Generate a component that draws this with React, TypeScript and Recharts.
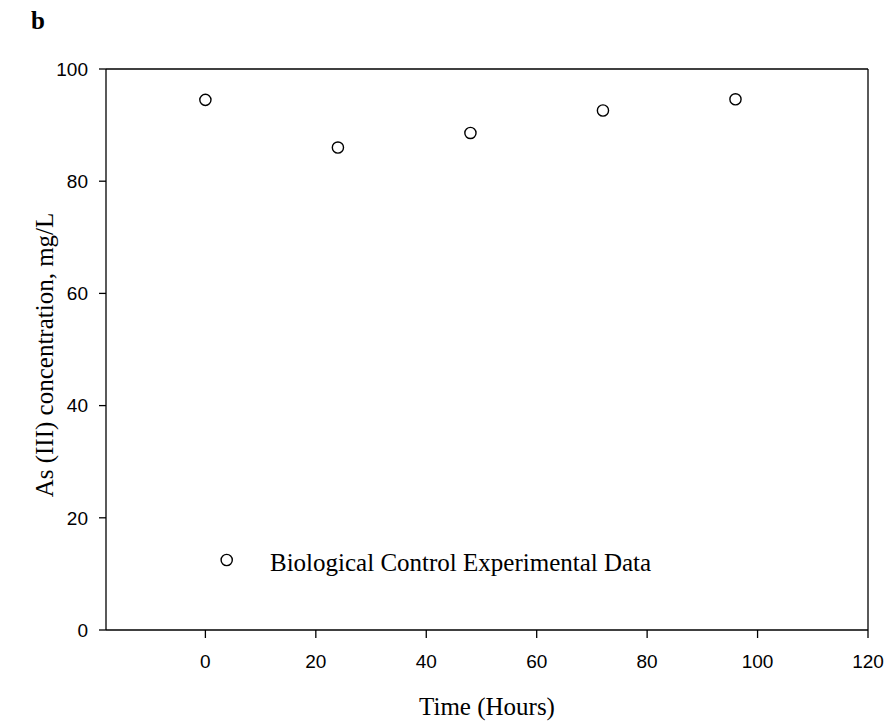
import React from 'react';
import { ScatterChart, Scatter, XAxis, YAxis, ReferenceLine, Customized } from 'recharts';

const timeHours = [0, 24, 48, 72, 96];
const asConcentration = [94.5, 86.0, 88.6, 92.6, 94.6];
const xTicks = [0, 20, 40, 60, 80, 100, 120];
const yTicks = [0, 20, 40, 60, 80, 100];
const xDomain = [-18, 120];
const yDomain = [0, 100];
const seriesName = 'Biological Control Experimental Data';
const panelLabel = 'b';
const xTitle = 'Time (Hours)';
const yTitle = 'As (III) concentration, mg/L';

const data = timeHours.map((t, i) => ({ x: t, y: asConcentration[i] }));

const SANS = '"Liberation Sans", Arial, sans-serif';
const SERIF = '"Liberation Serif", "Times New Roman", serif';

const tickStyle = { fill: '#000', fontSize: 19, fontFamily: SANS };
const lineStyle = { stroke: '#000', strokeWidth: 1.3 };

const Marker = (p: any) => (
  <circle cx={p.cx} cy={p.cy} r={5.6} fill="none" stroke="#000" strokeWidth={1.4} />
);

const Overlay = () => (
  <g>
    <text x={31} y={29} fontFamily={SERIF} fontWeight="bold" fontSize={25} fill="#000">
      {panelLabel}
    </text>
    <text x={487} y={715} textAnchor="middle" fontFamily={SERIF} fontSize={25} fill="#000">
      {xTitle}
    </text>
    <text
      x={53}
      y={355}
      textAnchor="middle"
      transform="rotate(-90 53 355)"
      fontFamily={SERIF}
      fontSize={25}
      fill="#000"
    >
      {yTitle}
    </text>
    <circle cx={226.7} cy={560} r={5.6} fill="none" stroke="#000" strokeWidth={1.4} />
    <text x={270} y={571} fontFamily={SERIF} fontSize={25} fill="#000">
      {seriesName}
    </text>
  </g>
);

export default function App() {
  return (
    <div style={{ position: 'absolute', left: 0, top: 0, background: '#fff' }}>
      <ScatterChart
        width={890}
        height={726}
        margin={{ top: 69, right: 22, bottom: 0, left: 0 }}
      >
        <XAxis
          dataKey="x"
          type="number"
          domain={xDomain}
          ticks={xTicks}
          allowDataOverflow
          height={96}
          tickSize={8}
          tickMargin={17}
          tick={tickStyle}
          axisLine={lineStyle}
          tickLine={lineStyle}
        />
        <YAxis
          dataKey="y"
          type="number"
          domain={yDomain}
          ticks={yTicks}
          allowDataOverflow
          width={106}
          tickSize={7}
          tickMargin={11}
          tick={tickStyle}
          axisLine={lineStyle}
          tickLine={lineStyle}
        />
        <ReferenceLine y={100} stroke="#000" strokeWidth={1.3} />
        <ReferenceLine x={120} stroke="#000" strokeWidth={1.3} />
        <Scatter
          name={seriesName}
          data={data}
          shape={Marker}
          isAnimationActive={false}
        />
        <Customized component={Overlay} />
      </ScatterChart>
    </div>
  );
}
